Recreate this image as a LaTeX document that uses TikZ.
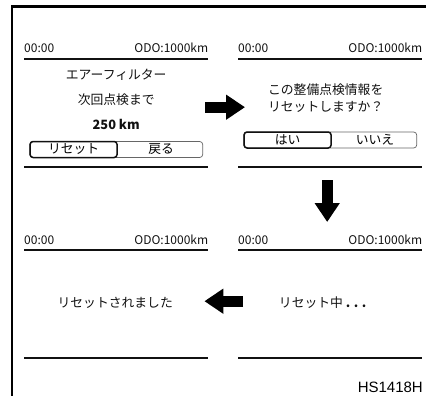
\documentclass[tikz,border=0pt]{standalone}
\usepackage{fontspec}
\setmainfont{Noto Sans CJK JP}
\newfontfamily\codefont{Liberation Sans}
\usepackage{tikz}
\usetikzlibrary{positioning,arrows.meta}
\tikzset{
  panel/.style={rectangle, minimum width=184pt, minimum height=134pt, inner sep=0pt, anchor=north west},
  hdr/.style={font=\fontsize{12}{14}\selectfont, text=ink, inner sep=0pt},
  msg/.style={font=\fontsize{12.8}{17}\selectfont, text=ink, inner sep=0pt, align=center},
  rule/.style={draw=ink, line width=1.1pt},
  btnbar/.style={rectangle, draw=btngray, line width=0.7pt, rounded corners=3pt,
                 minimum width=173pt, minimum height=16pt, inner sep=0pt},
  btnsel/.style={rectangle, draw=ink, line width=1.5pt, rounded corners=3pt, anchor=west,
                 minimum width=87pt, minimum height=16pt, inner sep=0pt, font=\fontsize{12.8}{15}\selectfont},
  btntxt/.style={minimum width=86pt, minimum height=16pt, inner sep=0pt, font=\fontsize{12.8}{15}\selectfont},
  flow/.style={-{Triangle[length=19pt, width=24pt]}, line width=11pt, draw=black},
  frame/.style={draw=black, line width=2.2pt},
}
\definecolor{ink}{HTML}{111111}
\definecolor{btngray}{HTML}{666666}

\begin{document}
\begin{tikzpicture}[x=1pt, y=-1pt]
  \useasboundingbox (0,0) rectangle (426,396);
  \draw[frame] (12,396) -- (12,6.5) -- (426,6.5);

  \node[panel] (air) at (24,40) {};
  \node[panel] (ask) at (238,40) {};
  \node[panel] (done) at (24,231) {};
  \node[panel] (busy) at (238,231) {};

  \foreach \p in {air,ask,done,busy} {
    \node[hdr, anchor=base west] (\p-clock) at ([yshift=-13pt]\p.north west) {00:00};
    \node[hdr, anchor=base east] (\p-odo) at ([yshift=-13pt]\p.north east) {ODO:1000km};
    \draw[rule] ([yshift=-19pt]\p.north west) -- ([yshift=-19pt]\p.north east);
    \draw[rule] ([yshift=-127pt]\p.north west) -- ([yshift=-127pt]\p.north east);
  }

  \node[msg] (air-title) at ([yshift=-35pt]air.north) {エアーフィルター};
  \node[msg] (air-next) at ([yshift=-60pt]air.north) {次回点検まで};
  \node[msg, font=\fontsize{12.8}{15}\selectfont\bfseries] (air-dist) at ([yshift=-84pt]air.north) {250 km};
  \node[btnbar] (air-bar) at ([yshift=-109.5pt]air.north) {};
  \node[btnsel] (air-reset) at (air-bar.west) {リセット};
  \node[btntxt, right=0 of air-reset] (air-back) {戻る};

  \node[msg, align=left] (ask-text) at ([xshift=-4.5pt, yshift=-58.5pt]ask.north) {この整備点検情報を\\リセットしますか？};
  \node[btnbar] (ask-bar) at ([yshift=-100pt]ask.north) {};
  \node[btnsel] (ask-yes) at (ask-bar.west) {はい};
  \node[btntxt, right=0 of ask-yes] (ask-no) {いいえ};

  \node[msg] (done-text) at ([xshift=-1pt, yshift=-72pt]done.north) {リセットされました};
  \node[msg] (busy-text) at ([xshift=-7.5pt, yshift=-72pt]busy.north) {リセット中\hspace{3pt}\textbf{.\hspace{3.5pt}.\hspace{3.5pt}.}};

  \node[anchor=base east, inner sep=0pt, font=\codefont\fontsize{15}{17}\selectfont] (code) at (423,392.5) {HS1418H};

  \draw[flow, shorten <=-3pt, shorten >=-7pt] (air.east) -- (ask.west);
  \draw[flow, shorten <=6pt, shorten >=9pt] ([xshift=-3pt]ask.south) -- ([xshift=-3pt]busy.north);
  \draw[flow, shorten <=-5pt, shorten >=-4pt] ([yshift=-3pt]busy.west) -- ([yshift=-3pt]done.east);
\end{tikzpicture}
\end{document}
